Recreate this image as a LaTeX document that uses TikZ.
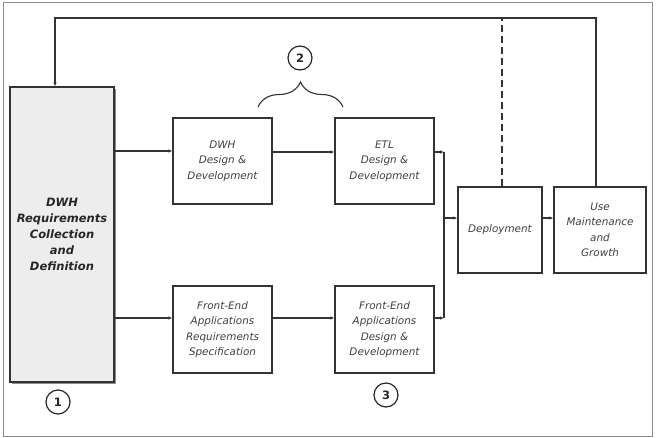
\documentclass[tikz,border=0pt]{standalone}
\usepackage{fontspec}
\setmainfont{DejaVu Sans}
\usetikzlibrary{arrows.meta,shadows,decorations.pathreplacing}
\begin{document}
\begin{tikzpicture}[x=1pt,y=-1pt,
  linecol/.style={draw=black!80, line width=1.3pt},
  box/.style={linecol, fill=white, align=center, inner sep=1pt,
    font=\fontsize{10.4}{15.5}\selectfont\itshape, text=black!75},
  bigbox/.style={linecol, fill=black!7, align=center, inner sep=1pt,
    font=\fontsize{11.5}{17.5}\selectfont\bfseries\itshape, text=black!85,
    drop shadow={shadow xshift=2pt, shadow yshift=-2pt, fill=black!45, opacity=1}},
  circ/.style={circle, draw=black!85, line width=1.2pt, minimum size=24pt, inner sep=0pt,
    font=\fontsize{11.5}{13}\selectfont\bfseries, text=black!85},
  arr/.style={linecol, -{Latex[length=4pt,width=3.5pt]}},
  conn/.style={linecol},
]
\useasboundingbox (0,0) rectangle (661,437);
\fill[white] (0,0) rectangle (661,437);
\draw[black!45, line width=1pt] (3,2) rectangle (652,436);

\node[bigbox, minimum width=104pt, minimum height=295pt] (big) at (62,234.5) {\raisebox{7pt}{\begin{tabular}{@{}c@{}}DWH\\[-1.5pt]Requirements\\[-1.5pt]Collection\\[-1.5pt]and\\[-1.5pt]Definition\end{tabular}}};

\node[box, minimum width=99pt, minimum height=86pt] (dwh) at (222.5,161) {DWH\\Design \&\\Development};
\node[box, minimum width=99pt, minimum height=86pt] (etl) at (384.5,161) {ETL\\Design \&\\Development};
\node[box, minimum width=99pt, minimum height=87pt] (fereq) at (222.5,329.5) {Front-End\\Applications\\Requirements\\Specification};
\node[box, minimum width=99pt, minimum height=87pt] (fedes) at (384.5,329.5) {Front-End\\Applications\\Design \&\\Development};
\node[box, minimum width=84pt, minimum height=86pt] (dep) at (500,230) {Deployment};
\node[box, minimum width=92pt, minimum height=86pt] (use) at (600,230) {Use\\Maintenance\\and\\Growth};

\node[circ] (c1) at (58,402) {1};
\node[circ] (c2) at (300,58) {2};
\node[circ] (c3) at (386,395) {3};

% brace
\coordinate (bl) at (258,107);
\coordinate (br) at (343,107);
\draw[conn, line width=1.1pt, decorate, decoration={brace, amplitude=25pt, aspect=0.5}] (bl) -- (br);

% connectors from big box
\coordinate (a1) at ([yshift=10pt]dwh.west);
\coordinate (a2) at ([yshift=11.5pt]fereq.west);
\draw[arr] (big.east |- a1) -- (a1);
\draw[arr] (big.east |- a2) -- (a2);
\coordinate (a3) at ([yshift=9pt]etl.west);
\draw[arr] (dwh.east |- a3) -- (a3);
\coordinate (a4) at ([yshift=11.5pt]fedes.west);
\draw[arr] (fereq.east |- a4) -- (a4);

% merge
\coordinate (m1) at (444,152);
\coordinate (m2) at (444,318);
\coordinate (m3) at (444,218);
\draw[arr] (etl.east |- m1) -- (m1);
\draw[arr] (fedes.east |- m2) -- (m2);
\draw[conn] (m1) -- (m2);
\draw[arr] (m3) -- (dep.west |- m3);
\draw[arr] (dep.east |- m3) -- (use.west |- m3);

% feedback loop
\coordinate (ytop) at (0,18);
\coordinate (u) at ([xshift=-4pt]use.north);
\coordinate (b) at ([xshift=-7pt]big.north);
\draw[arr] (u) -- (u |- ytop) -- (b |- ytop) -- (b);
\coordinate (d) at ([xshift=2pt]dep.north);
\draw[conn, dash pattern=on 7pt off 4pt] (d) -- (d |- ytop);
\end{tikzpicture}
\end{document}
